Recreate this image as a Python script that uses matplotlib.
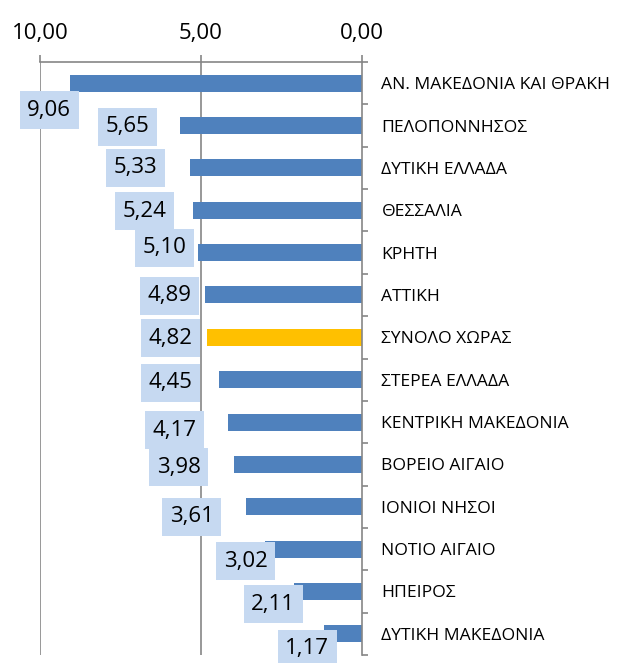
import matplotlib
matplotlib.use("Agg")
import matplotlib.pyplot as plt
from matplotlib.patches import Rectangle
from matplotlib.transforms import ScaledTranslation

plt.rcParams['font.family'] = ['Open Sans', 'DejaVu Sans']

categories = [
    "ΑΝ. ΜΑΚΕΔΟΝΙΑ ΚΑΙ ΘΡΑΚΗ", "ΠΕΛΟΠΟΝΝΗΣΟΣ", "ΔΥΤΙΚΗ ΕΛΛΑΔΑ", "ΘΕΣΣΑΛΙΑ",
    "ΚΡΗΤΗ", "ΑΤΤΙΚΗ", "ΣΥΝΟΛΟ ΧΩΡΑΣ", "ΣΤΕΡΕΑ ΕΛΛΑΔΑ", "ΚΕΝΤΡΙΚΗ ΜΑΚΕΔΟΝΙΑ",
    "ΒΟΡΕΙΟ ΑΙΓΑΙΟ", "ΙΟΝΙΟΙ ΝΗΣΟΙ", "ΝΟΤΙΟ ΑΙΓΑΙΟ", "ΗΠΕΙΡΟΣ", "ΔΥΤΙΚΗ ΜΑΚΕΔΟΝΙΑ",
]
values = [9.06, 5.65, 5.33, 5.24, 5.10, 4.89, 4.82, 4.45, 4.17, 3.98, 3.61, 3.02, 2.11, 1.17]
highlight = "ΣΥΝΟΛΟ ΧΩΡΑΣ"
x_ticks = [10, 5, 0]
x_tick_labels = ["10,00", "5,00", "0,00"]

# label box offsets (pixels) from bar end / bar centre – layout only
label_dx = [-21, -53, -55, -49, -33, -35, -36, -48, -53, -55, -54, -19, -21, -17]
label_dy = [27, 1, 0, 1, -5, 1, 1, 3, 8, 3, 10, 12, 13, 15]

BLUE = "#4F81BD"
GOLD = "#FFC000"
BOX = "#C6D9F1"
GRAY = "#868686"

W, H = 617, 663
fig = plt.figure(figsize=(W / 100, H / 100), dpi=100)
ax = fig.add_axes([40 / W, (H - 655) / H, (362 - 40) / W, (655 - 62) / H])

ypos = list(range(len(categories)))
colors = [GOLD if c == highlight else BLUE for c in categories]
ax.barh(ypos, values, height=0.40, color=colors, zorder=2)

ax.set_xlim(10, 0)
ax.set_ylim(len(categories) - 0.5, -0.5)

# spines
for s in ["left", "bottom"]:
    ax.spines[s].set_visible(False)
for s in ["top", "right"]:
    ax.spines[s].set_color(GRAY)
    ax.spines[s].set_linewidth(1.2)

# gridlines
for xv in x_ticks[:-1]:
    ax.axvline(xv, color=GRAY, lw=1.2, zorder=1)

# x axis on top
ax.xaxis.tick_top()
ax.set_xticks(x_ticks)
ax.set_xticklabels(x_tick_labels, fontsize=16)
ax.tick_params(axis="x", direction="out", length=5, width=1.2, color=GRAY, pad=8)

# y axis on right: boundaries as major ticks, labels as minor ticks
ax.yaxis.tick_right()
ax.set_yticks([i - 0.5 for i in range(len(categories) + 1)])
ax.set_yticklabels([])
ax.set_yticks(ypos, minor=True)
ax.set_yticklabels(categories, minor=True, fontsize=12.6)
ax.tick_params(axis="y", which="major", direction="out", length=4.5, width=1.2, color=GRAY)
ax.tick_params(axis="y", which="minor", length=0, pad=14)

# value labels in boxes
bw, bh = 59, 38
for i, v in enumerate(values):
    trans = fig.dpi_scale_trans + ScaledTranslation(v, i, ax.transData)
    cx, cy = label_dx[i] / 100, -label_dy[i] / 100
    ax.add_patch(Rectangle((cx - bw / 200, cy - bh / 200), bw / 100, bh / 100,
                           transform=trans, facecolor=BOX, edgecolor="none",
                           clip_on=False, zorder=3))
    ax.text(cx, cy, f"{v:.2f}".replace(".", ","), transform=trans,
            ha="center", va="center", fontsize=16, zorder=4, clip_on=False)

fig.savefig("out.png", dpi=100)
